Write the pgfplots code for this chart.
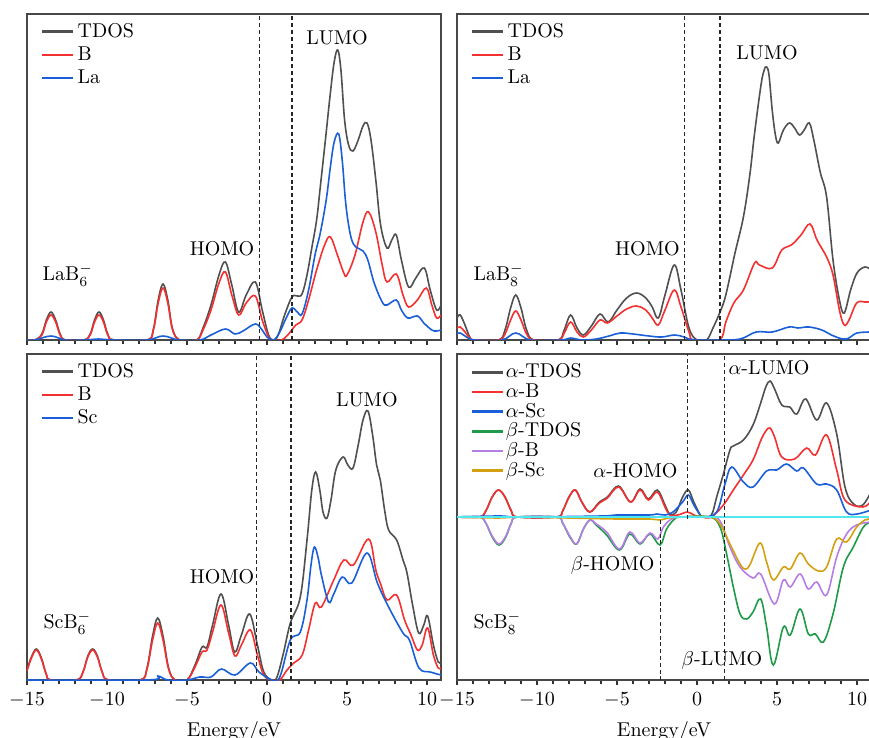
\documentclass[border=0pt]{standalone}
\usepackage{pgfplots}
\pgfplotsset{compat=1.18}
\definecolor{cT}{HTML}{505050}
\definecolor{cB}{HTML}{F53030}
\definecolor{cM}{HTML}{1A5FD8}
\definecolor{cG}{HTML}{1F9A48}
\definecolor{cP}{HTML}{B57DE6}
\definecolor{cY}{HTML}{D4A012}
\definecolor{cC}{HTML}{4EE8EE}
\pgfplotsset{
  dosaxis/.style={
    width=207pt, height=163pt, scale only axis,
    xmin=-15, xmax=10.875,
    xtick={-15,-10,...,10}, minor x tick num=4,
    ytick=\empty, xtick pos=left, tick align=outside,
    major tick length=2.6pt, minor tick length=1.8pt,
    axis line style={line width=0.8pt, black!72},
    every tick/.style={black!80, line width=0.6pt},
    xlabel style={yshift=-0.3pt},
    legend cell align=left,
    legend image code/.code={\draw[#1, line width=1.2pt, sharp plot] (0pt,0pt) -- (15.5pt,0pt);},
    legend style={draw=none, fill=none, inner sep=0pt, at={(0.033,0.983)}, anchor=north west,
      nodes={inner sep=1.57pt}},
    every axis plot/.append style={line width=0.8pt, smooth, tension=0.6},
  },
  dash/.style={black!85, line width=0.55pt, dash pattern=on 2pt off 1.4pt, forget plot, sharp plot},
}
\begin{document}
\begin{tikzpicture}
%%%%%%%%%%%%%%%% Panel 1: LaB6-
\begin{axis}[dosaxis, at={(13.5pt,-7pt)}, anchor=north west, ymin=0, ymax=326, xticklabels=\empty]
\addplot[cT] coordinates {(-15,0)(-14.5,0)(-14.07,6)(-13.79,20)(-13.5,28)(-13.21,20)(-12.93,6)(-12.6,0)
 (-11.45,0)(-11.05,6)(-10.78,20)(-10.5,28)(-10.22,20)(-9.95,6)(-9.55,0)
 (-7.5,0)(-7.1,11)(-6.8,40)(-6.5,56)(-6.2,40)(-5.9,11)(-5.45,0)
 (-4.4,0)(-4.0,12)(-3.5,35)(-3.0,65)(-2.6,78)(-2.2,55)(-1.77,28)(-1.3,45)(-0.73,58)(-0.3,30)(0.1,5)(0.42,0)
 (0.7,5)(1.1,25)(1.56,43)(1.9,44)(2.19,46)(2.5,65)(2.81,93)(3.1,120)(3.33,153)(3.65,200)(3.96,247)(4.2,278)(4.42,290)(4.62,270)(4.85,220)(5.1,195)(5.375,189)(5.7,200)(6.0,214)(6.25,217)(6.5,200)(6.8,160)(7.1,115)(7.5,92)(7.8,100)(8.08,105)(8.4,80)(8.85,53)(9.3,62)(9.83,72)(10.2,50)(10.6,30)(10.875,35)};
\addlegendentry{TDOS}
\addplot[cB] coordinates {(-15,0)(-14.5,0)(-14.07,5)(-13.79,18)(-13.5,25)(-13.21,18)(-12.93,5)(-12.6,0)
 (-11.45,0)(-11.05,5)(-10.78,18)(-10.5,25)(-10.22,18)(-9.95,5)(-9.55,0)
 (-7.5,0)(-7.1,10)(-6.8,37)(-6.5,52)(-6.2,37)(-5.9,10)(-5.45,0)
 (-4.4,0)(-4.0,10)(-3.5,30)(-3.0,57)(-2.6,68)(-2.2,45)(-1.77,25)(-1.3,37)(-0.73,44)(-0.3,20)(0.1,3)(0.3,0)
 (0.9,0)(1.3,5)(1.8,15)(2.19,20)(2.6,40)(3.1,70)(3.6,95)(3.96,103)(4.4,85)(4.8,67)(5.0,65)(5.5,85)(6.0,118)(6.35,128)(6.8,108)(7.2,75)(7.5,58)(8.08,66)(8.5,45)(8.85,33)(9.4,40)(9.96,52)(10.3,35)(10.6,22)(10.875,25)};
\addlegendentry{B}
\addplot[cM] coordinates {(-15,0)(-14.5,0)(-13.5,4)(-12.6,0)(-11.4,0)(-10.5,1)(-9.6,0)(-7.5,0)(-6.5,4)(-5.5,0)
 (-4.2,0)(-3.5,5)(-2.6,11)(-2.0,6)(-1.5,9)(-0.73,16)(-0.3,10)(0.0,3)(0.42,0)
 (0.8,8)(1.2,22)(1.56,32)(1.9,28)(2.19,26)(2.6,50)(3.0,85)(3.33,107)(3.7,140)(3.96,173)(4.2,198)(4.48,206)(4.7,180)(4.9,140)(5.1,115)(5.3,100)(5.55,93)(6.0,89)(6.3,80)(6.7,57)(7.2,38)(7.5,35)(8.08,40)(8.4,30)(8.8,22)(9.4,24)(9.8,17)(10.3,10)(10.6,9)(10.875,10)};
\addlegendentry{La}
\addplot[dash] coordinates {(-0.46,0)(-0.46,326)};
\addplot[dash] coordinates {(1.56,0)(1.56,326)};
\node at (rel axis cs:0.749,0.926) {LUMO};
\node at (rel axis cs:0.471,0.279) {HOMO};
\node[anchor=west, inner sep=0pt] at (rel axis cs:0.037,0.2) {LaB$_6^-$};
\end{axis}
%%%%%%%%%%%%%%%% Panel 2: LaB8-
\begin{axis}[dosaxis, at={(228.5pt,-7pt)}, anchor=north west, ymin=0, ymax=326, xticklabels=\empty]
\addplot[cT] coordinates {(-15,22)(-14.8,25)(-14.5,15)(-14.2,3)(-13.9,0)
 (-12.4,0)(-12.0,10)(-11.65,32)(-11.33,45)(-11.0,32)(-10.65,10)(-10.2,0)
 (-8.67,0)(-8.3,10)(-7.9,25)(-7.5,12)(-7.1,5)(-6.6,14)(-6.06,26)(-5.55,18)(-5.0,30)(-4.4,42)(-3.77,47)(-3.2,42)(-2.8,33)(-2.42,22)(-2.0,45)(-1.42,75)(-1.0,50)(-0.5,12)(0,0)
 (0.6,0)(1.0,12)(1.44,28)(1.8,45)(2.375,87)(2.9,123)(3.3,165)(3.6,207)(4.0,255)(4.2,270)(4.35,273)(4.5,265)(4.7,230)(4.9,205)(5.08,197)(5.4,210)(5.77,217)(6.1,212)(6.4,205)(6.7,210)(7.02,217)(7.3,200)(7.7,168)(8.1,143)(8.5,80)(8.9,40)(9.2,27)(9.6,50)(10.0,67)(10.5,73)(10.875,70)};
\addlegendentry{TDOS}
\addplot[cB] coordinates {(-15,12)(-14.8,13)(-14.5,8)(-14.2,2)(-13.9,0)
 (-12.4,0)(-12.0,6)(-11.65,20)(-11.33,29)(-11.0,20)(-10.65,6)(-10.2,0)
 (-8.67,0)(-8.3,7)(-7.9,18)(-7.5,8)(-7.1,3)(-6.6,10)(-6.06,20)(-5.6,17)(-5.0,24)(-4.4,31)(-3.77,34)(-3.2,30)(-2.8,22)(-2.42,15)(-2.0,30)(-1.42,50)(-1.0,33)(-0.5,8)(-0.2,0)
 (1.4,0)(1.8,18)(2.3,37)(2.9,50)(3.6,77)(3.9,75)(4.7,72)(5.3,90)(5.9,95)(6.5,105)(7.06,116)(7.5,100)(8.1,83)(8.5,65)(8.9,30)(9.2,15)(9.5,20)(9.98,37)(10.5,38)(10.875,38)};
\addlegendentry{B}
\addplot[cM] coordinates {(-15,6)(-14.8,7)(-14.3,2)(-13.9,0)(-12.2,0)(-11.33,7)(-10.4,0)(-8.5,0)(-7.9,2)(-7.2,0)(-6.3,1)(-5.5,4)(-4.8,7)(-4.0,6)(-3.0,4)(-2.2,3)(-1.4,5)(-0.8,3)(-0.2,0)
 (1.4,0)(2.7,1)(3.7,8)(4.7,8)(5.75,13)(6.3,12)(7.0,13)(7.8,10)(8.4,5)(9.1,1)(9.5,2)(10.0,7)(10.875,8)};
\addlegendentry{La}
\addplot[dash] coordinates {(-0.79,0)(-0.79,326)};
\addplot[dash] coordinates {(1.44,0)(1.44,326)};
\node at (rel axis cs:0.749,0.880) {LUMO};
\node at (rel axis cs:0.46,0.279) {HOMO};
\node[anchor=west, inner sep=0pt] at (rel axis cs:0.039,0.2) {LaB$_8^-$};
\end{axis}
%%%%%%%%%%%%%%%% Panel 3: ScB6-
\begin{axis}[dosaxis, at={(13.5pt,-177pt)}, anchor=north west, ymin=0, ymax=326, xlabel={Energy/eV}]
\addplot[cT] coordinates {(-15,10)(-14.75,22)(-14.42,31)(-14.1,22)(-13.8,6)(-13.5,0)
 (-11.9,0)(-11.5,8)(-11.2,24)(-10.9,31)(-10.6,24)(-10.3,8)(-9.9,0)
 (-7.92,0)(-7.5,12)(-7.15,44)(-6.83,62)(-6.5,44)(-6.15,12)(-5.75,0)
 (-5.0,0)(-4.5,15)(-4.06,33)(-3.75,33)(-3.4,55)(-2.875,86)(-2.4,55)(-2.02,28)(-1.6,45)(-1.08,66)(-0.6,35)(-0.2,8)(0.3,0)
 (0.6,2)(1.0,25)(1.46,57)(2.08,83)(2.5,140)(2.8,190)(3.04,208)(3.3,190)(3.5,168)(3.75,162)(4.0,180)(4.3,210)(4.75,223)(5.05,215)(5.375,212)(5.7,235)(6.0,260)(6.31,269)(6.6,245)(6.85,215)(7.08,200)(7.35,170)(7.6,150)(8.1,140)(8.5,120)(8.75,107)(9.1,75)(9.48,47)(9.8,55)(10.04,64)(10.4,35)(10.7,18)(10.875,18)};
\addlegendentry{TDOS}
\addplot[cB] coordinates {(-15,9)(-14.75,21)(-14.42,30)(-14.1,21)(-13.8,6)(-13.5,0)
 (-11.9,0)(-11.5,8)(-11.2,23)(-10.9,30)(-10.6,23)(-10.3,8)(-9.9,0)
 (-7.92,0)(-7.5,11)(-7.15,40)(-6.83,57)(-6.5,40)(-6.15,11)(-5.75,0)
 (-5.0,0)(-4.5,13)(-4.06,28)(-3.75,30)(-3.4,48)(-2.875,75)(-2.4,47)(-2.0,24)(-1.6,35)(-1.04,50)(-0.6,25)(-0.2,5)(0.3,0)
 (0.8,0)(1.25,10)(1.67,17)(2.2,25)(2.6,50)(3.02,77)(3.4,73)(4.17,100)(4.8,120)(5.4,115)(6.35,141)(6.8,110)(7.08,97)(7.5,80)(8.1,85)(8.6,60)(9.0,45)(9.4,30)(9.7,35)(10.04,52)(10.4,25)(10.7,12)(10.875,12)};
\addlegendentry{B}
\addplot[cM] coordinates {(-15,0)(-7.5,0)(-6.83,4)(-6.2,0)(-5.0,0)(-4.2,3)(-3.5,3)(-2.85,11)(-2.0,5)(-1.04,17)(-0.5,8)(0.3,0)
 (0.8,3)(1.46,40)(2.08,48)(2.5,80)(2.75,115)(2.96,133)(3.2,122)(3.4,105)(3.85,78)(4.17,86)(4.7,103)(5.3,97)(6.25,127)(6.9,97)(7.6,73)(8.5,47)(8.9,40)(9.5,12)(10.2,8)(10.875,5)};
\addlegendentry{Sc}
\addplot[dash] coordinates {(-0.67,0)(-0.67,326)};
\addplot[dash] coordinates {(1.5,0)(1.5,326)};
\node at (rel axis cs:0.821,0.859) {LUMO};
\node at (rel axis cs:0.471,0.316) {HOMO};
\node[anchor=west, inner sep=0pt] at (rel axis cs:0.039,0.175) {ScB$_6^-$};
\end{axis}
%%%%%%%%%%%%%%%% Panel 4: ScB8-
\begin{axis}[dosaxis, at={(228.5pt,-177pt)}, anchor=north west, ymin=-163, ymax=163, xlabel={Energy/eV},
  legend style={at={(0.033,0.975)}, nodes={inner sep=0.67pt}}]
\addplot[cT] coordinates {(-15,0)(-13.6,0)(-13.2,6)(-12.8,20)(-12.4,27)(-12.0,20)(-11.6,6)(-11.2,0)
 (-8.8,0)(-8.4,6)(-8.0,20)(-7.6,27)(-7.2,15)(-6.7,5)(-6.1,15)(-5.6,20)(-4.9,31)(-4.15,15)(-3.56,28)(-3.04,18)(-2.48,27)(-2.0,12)(-1.7,3)(-1.3,5)(-0.9,20)(-0.54,27)(-0.2,15)(0.2,2)(0.4,0)
 (0.9,2)(1.23,20)(1.65,43)(2.06,67)(2.27,71)(2.9,77)(3.5,92)(4.0,115)(4.3,130)(4.56,136)(4.85,128)(5.3,112)(5.8,110)(6.23,103)(6.79,118)(7.48,97)(8.1,114)(8.73,83)(9.25,30)(9.79,13)(10.36,12)(10.875,25)};
\addlegendentry{$\alpha$-TDOS}
\addplot[cB] coordinates {(-15,0)(-13.6,0)(-13.2,6)(-12.8,20)(-12.4,27)(-12.0,20)(-11.6,6)(-11.2,0)
 (-8.8,0)(-8.4,6)(-8.0,20)(-7.6,27)(-7.2,15)(-6.7,5)(-6.1,14)(-5.6,19)(-4.9,30)(-4.15,15)(-3.56,27)(-3.04,17)(-2.48,25)(-2.0,10)(-1.7,2)(-1.2,2)(-0.6,5)(-0.2,2)(0.3,0)
 (0.9,0)(1.65,12)(2.27,27)(2.9,42)(3.5,57)(4.0,77)(4.3,86)(4.56,89)(4.85,80)(5.3,60)(6.1,58)(6.85,69)(7.4,62)(8.1,82)(8.73,47)(9.25,17)(10.36,10)(10.875,16)};
\addlegendentry{$\alpha$-B}
\addplot[cM] coordinates {(-15,0)(-12.4,1)(-11,0)(-6,1)(-5,2)(-3,2)(-2.5,3)(-2.0,2)(-1.5,5)(-0.9,15)(-0.54,22)(-0.2,12)(0.2,2)(0.4,0)
 (1.23,5)(1.75,33)(2.17,50)(2.9,35)(3.5,30)(4.35,46)(4.98,47)(5.6,53)(6.23,46)(6.65,49)(7.48,33)(8.1,33)(8.73,27)(9.35,5)(10.0,3)(10.875,7)};
\addlegendentry{$\alpha$-Sc}
\addplot[cG] coordinates {(-15,0)(-13.6,0)(-13.2,-6)(-12.8,-20)(-12.37,-28)(-11.95,-20)(-11.6,-6)(-11.2,0)
 (-8.8,0)(-8.4,-6)(-7.95,-20)(-7.52,-27)(-7.1,-12)(-6.69,-3)(-6.3,-8)(-5.65,-18)(-4.85,-33)(-4.2,-17)(-3.56,-27)(-2.94,-17)(-2.31,-28)(-1.9,-12)(-1.4,-2)(-1.0,0)
 (0.8,0)(1.44,-10)(1.85,-37)(2.27,-70)(2.69,-97)(3.1,-102)(3.5,-95)(3.98,-82)(4.35,-110)(4.77,-148)(5.4,-110)(5.83,-118)(6.44,-92)(6.96,-117)(7.4,-117)(7.9,-125)(8.5,-97)(9.15,-50)(9.77,-30)(10.4,-10)(10.875,-5)};
\addlegendentry{$\beta$-TDOS}
\addplot[cP] coordinates {(-15,0)(-13.6,0)(-13.2,-6)(-12.8,-19)(-12.37,-27)(-11.95,-19)(-11.6,-6)(-11.2,0)
 (-8.8,0)(-8.4,-6)(-7.95,-19)(-7.52,-27)(-7.1,-12)(-6.69,-3)(-6.3,-7)(-5.65,-15)(-4.85,-32)(-4.2,-15)(-3.56,-26)(-2.94,-16)(-2.45,-22)(-2.1,-10)(-1.6,-2)(-1.0,0)
 (0.8,0)(1.44,-4)(2.06,-30)(2.69,-50)(3.5,-61)(3.98,-57)(4.83,-87)(5.4,-63)(5.83,-70)(6.44,-57)(6.96,-72)(7.48,-65)(8.1,-78)(8.73,-40)(9.35,-17)(9.98,-8)(10.875,-5)};
\addlegendentry{$\beta$-B}
\addplot[cY] coordinates {(-15,0)(-12.4,-1)(-11,0)(-8,-1)(-5,-2)(-3,-2)(-2.3,-3)(-1.8,-1)(-1.0,0)
 (0.8,0)(1.44,-7)(2.06,-27)(2.69,-47)(3.0,-52)(3.3,-48)(3.94,-26)(4.35,-45)(4.77,-63)(5.4,-50)(5.83,-52)(6.44,-36)(6.96,-47)(7.6,-54)(8.1,-50)(8.73,-22)(9.35,-25)(9.98,-10)(10.5,-3)(10.875,-2)};
\addlegendentry{$\beta$-Sc}
\addplot[cC, line width=0.9pt, forget plot, sharp plot] coordinates {(-15,0)(10.875,0)};
\addplot[dash] coordinates {(-0.58,-2)(-0.58,163)};
\addplot[dash] coordinates {(1.7,-163)(1.7,163)};
\addplot[dash] coordinates {(-2.27,-3)(-2.27,-163)};
\node[anchor=west, inner sep=0pt] at (rel axis cs:0.655,0.957) {$\alpha$-LUMO};
\node at (rel axis cs:0.431,0.641) {$\alpha$-HOMO};
\node at (rel axis cs:0.376,0.353) {$\beta$-HOMO};
\node at (rel axis cs:0.64,0.061) {$\beta$-LUMO};
\node[anchor=west, inner sep=0pt] at (rel axis cs:0.039,0.175) {ScB$_8^-$};
\end{axis}
\pgfresetboundingbox
\path[use as bounding box] (0pt,0pt) rectangle (434.5pt,-369pt);
\end{tikzpicture}
\end{document}
